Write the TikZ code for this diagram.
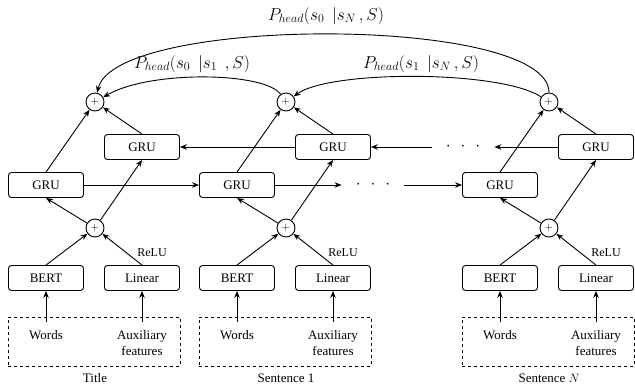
\documentclass[tikz,border=0pt]{standalone}
\usepackage{fontspec}
\setmainfont{Liberation Serif}
\usetikzlibrary{arrows.meta}
\begin{document}
\begin{tikzpicture}[x=1pt,y=-1pt,
  font=\fontsize{13}{16}\selectfont,
  box/.style={draw, rounded corners=3pt, minimum width=75pt, minimum height=25pt, line width=0.9pt, inner sep=0pt},
  plus/.style={draw, circle, minimum size=18pt, inner sep=0pt, line width=0.9pt, font=\fontsize{11}{11}\selectfont},
  arr/.style={-{Stealth[length=7pt,width=5.5pt]}, line width=0.9pt},
  txt/.style={anchor=north, inner ysep=8pt, align=center},
  dotsn/.style={inner xsep=14pt, inner ysep=0pt, font=\fontsize{18}{18}\selectfont},
  lbl/.style={font=\fontsize{16.5}{17}\selectfont}]
\useasboundingbox (0,0) rectangle (635,385);
\foreach \i/\o/\lab in {0/0/Title, 1/191/Sentence 1, N/454/Sentence $N$} {
  \node[box] (gf\i) at (46+\o,185) {GRU};
  \node[box] (gb\i) at (142+\o,147) {GRU};
  \node[plus] (pt\i) at (95+\o,102) {$+$};
  \node[plus] (pb\i) at (95+\o,228) {$+$};
  \node[box] (bert\i) at (46+\o,278) {BERT};
  \node[box] (lin\i) at (142+\o,278) {Linear};
  \node[draw, dashed, line width=0.8pt, minimum width=172pt, minimum height=49pt, inner sep=0pt] (d\i) at (94+\o,341.5) {};
  \node[txt] (w\i) at (46+\o,322) {Words};
  \node[txt] (a\i) at (142+\o,322) {Auxiliary\\features};
  \node (t\i) at (95+\o,378) {\lab};
  \node[font=\fontsize{12}{12}\selectfont] (r\i) at (152+\o,253) {ReLU};
  \draw[arr] (w\i) -- (bert\i);
  \draw[arr] (a\i) -- (lin\i);
  \draw[arr] (bert\i.north) -- (pb\i);
  \draw[arr] (lin\i.north) -- (pb\i);
  \draw[arr] (pb\i) -- (gf\i.south);
  \draw[arr] (pb\i) -- (gb\i.south);
  \draw[arr] (gf\i.north) -- (pt\i);
  \draw[arr] (gb\i.north) -- (pt\i);
}
\node[dotsn] (fd) at (373,185) {${\cdot}\hspace{10pt}{\cdot}\hspace{10pt}{\cdot}$};
\node[dotsn] (bd) at (463,147) {${\cdot}\hspace{10pt}{\cdot}\hspace{10pt}{\cdot}$};
\draw[arr] (gf0) -- (gf1);
\draw[arr] (gf1) -- (fd);
\draw[arr] (fd) -- (gfN);
\draw[arr] (gbN) -- (bd);
\draw[arr] (bd) -- (gb1);
\draw[arr] (gb1) -- (gb0);
\draw[arr] (pt1) .. controls (265,72) and (150,70) .. (pt0);
\draw[arr] (ptN) .. controls (500,70) and (330,70) .. (pt1);
\draw[arr] (ptN) .. controls (549,15) and (115,15) .. (pt0);
\node[lbl] (l10) at (192,64) {$P_{head}\bigl(s_0\;\, |s_1\;\, ,S\bigr)$};
\node[lbl] (lN1) at (421,64) {$P_{head}\bigl(s_1\;\, |s_N\,,S\bigr)$};
\node[lbl] (lN0) at (326,16) {$P_{head}\bigl(s_0\;\, |s_N\,,S\bigr)$};
\end{tikzpicture}
\end{document}
